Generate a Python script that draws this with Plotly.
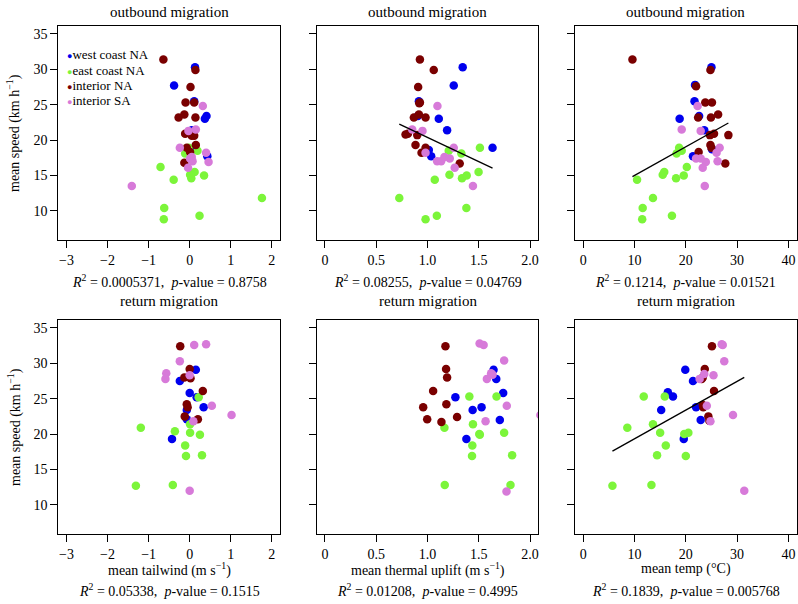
import numpy as np
import plotly.graph_objects as go

# ---------------- data ----------------
group_names = ["west coast NA", "east coast NA", "interior NA", "interior SA"]

# Panel 1: outbound, mean tailwind
p1_blue_x = [0.13, -0.38, 0.11, 0.41, 0.37, 0.05, 0.43, 0.05]
p1_blue_y = [30.3, 27.7, 25.5, 23.4, 23.0, 21.4, 17.7, 18.6]
p1_green_x = [-0.71, 0.19, -0.11, 0.12, 0.01, 0.04, 0.35, -0.39, -0.62, -0.63, 0.24, 1.76, -0.02]
p1_green_y = [16.2, 18.5, 18.1, 15.5, 15.1, 14.6, 15.0, 14.4, 10.4, 8.8, 9.3, 11.8, 18.9]
p1_red_x = [-0.64, 0.14, 0.02, -0.10, 0.11, -0.27, -0.13, 0.14, -0.11, 0.05, 0.11, -0.07, 0.15, 0.01, -0.13]
p1_red_y = [31.4, 29.9, 27.5, 25.3, 25.3, 23.2, 23.6, 23.2, 20.9, 20.6, 20.6, 18.9, 19.3, 18.3, 16.8]
p1_violet_x = [0.32, 0.15, -0.03, -0.24, 0.40, 0.46, 0.01, 0.05, -0.04, -1.41, 0.07]
p1_violet_y = [24.8, 21.5, 21.3, 18.9, 18.2, 16.9, 17.4, 17.6, 16.1, 13.5, 17.0]

# Panel 2: outbound, mean thermal uplift
p2_blue_x = [1.343, 1.256, 0.916, 1.110, 1.191, 1.013, 1.036, 1.634, 0.906]
p2_blue_y = [30.3, 27.7, 25.5, 23.0, 21.4, 18.6, 17.7, 18.9, 23.4]
p2_green_x = [0.725, 0.981, 1.091, 1.071, 1.214, 1.207, 1.330, 1.336, 1.382, 1.379, 1.498, 1.511]
p2_green_y = [11.8, 8.8, 9.3, 14.4, 15.1, 18.5, 18.1, 14.6, 15.0, 10.4, 15.5, 18.9]
p2_red_x = [0.926, 1.061, 0.909, 0.926, 0.920, 0.867, 0.916, 0.981, 0.786, 0.809, 0.900, 0.883, 0.981, 0.942, 1.314]
p2_red_y = [31.4, 29.9, 27.5, 25.3, 25.2, 23.2, 23.6, 23.2, 20.8, 20.9, 20.7, 19.3, 18.9, 18.2, 16.7]
p2_violet_x = [1.097, 0.851, 0.951, 1.256, 0.981, 1.094, 1.133, 1.165, 1.217, 1.265, 1.443]
p2_violet_y = [24.8, 21.5, 21.3, 18.9, 18.2, 17.0, 17.0, 17.6, 17.4, 16.1, 13.5]

# Panel 3: outbound, mean temp
p3_blue_x = [25.0, 21.8, 21.7, 22.6, 23.6, 18.8, 21.4, 25.1]
p3_blue_y = [30.3, 27.8, 25.5, 23.4, 21.4, 23.0, 17.7, 18.7]
p3_green_x = [10.5, 11.6, 11.5, 13.6, 15.5, 15.8, 17.3, 18.1, 18.2, 18.7, 19.2, 19.6, 20.2]
p3_green_y = [14.4, 10.4, 8.8, 11.8, 15.1, 15.5, 9.3, 14.6, 18.1, 18.9, 18.5, 15.0, 16.2]
p3_red_x = [9.6, 24.8, 22.0, 23.8, 25.1, 22.4, 24.9, 26.3, 24.7, 25.5, 28.3, 24.8, 25.0, 22.5, 27.7]
p3_red_y = [31.4, 29.9, 27.6, 25.3, 25.3, 23.2, 23.2, 23.6, 20.7, 20.9, 20.7, 19.3, 18.9, 18.3, 16.7]
p3_violet_x = [22.3, 19.2, 22.9, 26.6, 26.0, 22.0, 22.9, 23.9, 26.2, 23.3, 23.7]
p3_violet_y = [24.8, 21.5, 21.3, 18.9, 18.2, 17.4, 17.4, 16.9, 17.0, 16.1, 13.5]

# Panel 4: return, mean tailwind
p4_blue_x = [0.15, -0.24, 0.00, 0.34, -0.07, -0.07, -0.43, 0.17]
p4_blue_y = [29.1, 27.5, 25.8, 23.8, 23.4, 22.1, 19.3, 25.2]
p4_green_x = [-1.19, -0.36, 0.01, 0.25, -0.11, -0.09, 0.30, -1.31, -0.41, 0.22, 0.01]
p4_green_y = [20.9, 20.4, 20.2, 19.9, 18.4, 16.9, 17.0, 12.7, 12.8, 25.2, 21.4]
p4_red_x = [-0.23, 0.00, -0.13, 0.02, 0.32, -0.07, -0.05, -0.12, 0.20]
p4_red_y = [32.4, 29.2, 28.0, 27.9, 26.1, 24.2, 23.8, 22.5, 22.1]
p4_violet_x = [0.11, 0.40, -0.24, -0.57, -0.59, 0.00, 0.54, 1.02, 0.09, 0.00]
p4_violet_y = [32.6, 32.7, 30.3, 28.6, 27.8, 28.3, 24.0, 22.7, 21.8, 12.0]

# Panel 5: return, mean thermal uplift
p5_blue_x = [1.644, 1.670, 1.738, 1.272, 1.527, 1.440, 1.705, 1.379]
p5_blue_y = [29.1, 27.8, 25.8, 25.2, 23.8, 23.4, 22.0, 19.3]
p5_green_x = [1.165, 1.408, 1.673, 1.443, 1.505, 1.437, 1.434, 1.747, 1.825, 1.168, 1.809, 1.510]
p5_green_y = [20.9, 25.3, 25.3, 21.4, 20.0, 18.4, 16.9, 20.2, 17.0, 12.8, 12.8, 19.9]
p5_red_x = [1.175, 1.181, 1.191, 1.055, 0.958, 1.184, 0.997, 1.288, 1.136]
p5_red_y = [32.4, 29.2, 28.0, 26.1, 23.8, 24.2, 22.1, 22.4, 21.7]
p5_violet_x = [1.508, 1.547, 1.747, 1.634, 1.579, 1.773, 2.100, 1.566, 1.770, 1.620]
p5_violet_y = [32.8, 32.6, 30.4, 28.4, 27.8, 24.0, 22.7, 21.8, 11.9, 28.6]

# Panel 6: return, mean temp
p6_blue_x = [19.9, 21.4, 16.5, 17.5, 15.2, 22.0, 22.9, 19.6]
p6_blue_y = [29.1, 27.5, 25.9, 25.3, 23.4, 23.8, 22.0, 19.3]
p6_green_x = [8.6, 11.8, 15.9, 13.6, 15.0, 16.1, 14.4, 19.7, 20.5, 20.0, 5.7, 13.3]
p6_green_y = [20.9, 25.3, 25.3, 21.4, 20.2, 18.4, 17.0, 20.0, 20.2, 16.9, 12.7, 12.8]
p6_red_x = [25.1, 23.7, 23.3, 23.1, 25.5, 23.3, 23.4, 24.4, 24.6]
p6_red_y = [32.4, 29.2, 28.0, 27.8, 26.1, 24.1, 23.8, 22.5, 21.9]
p6_violet_x = [27.0, 27.2, 27.5, 25.4, 23.6, 22.7, 24.1, 29.2, 24.8, 31.4]
p6_violet_y = [32.7, 32.6, 30.3, 28.3, 28.5, 27.8, 24.0, 22.7, 21.8, 12.0]

panel_titles = ["outbound migration"] * 3 + ["return migration"] * 3
stats_text = [
    "<i>R</i><sup>2</sup> = 0.0005371,  <i>p</i>-value = 0.8758",
    "<i>R</i><sup>2</sup> = 0.08255,  <i>p</i>-value = 0.04769",
    "<i>R</i><sup>2</sup> = 0.1214,  <i>p</i>-value = 0.01521",
    "<i>R</i><sup>2</sup> = 0.05338,  <i>p</i>-value = 0.1515",
    "<i>R</i><sup>2</sup> = 0.01208,  <i>p</i>-value = 0.4995",
    "<i>R</i><sup>2</sup> = 0.1839,  <i>p</i>-value = 0.005768",
]
show_fit = [False, True, True, False, False, True]
x_titles = ["mean tailwind (m s<sup>\u22121</sup>)",
            "mean thermal uplift (m s<sup>\u22121</sup>)",
            "mean temp (\u00b0C)"]
x_tickvals = [[-3, -2, -1, 0, 1, 2], [0, 0.5, 1.0, 1.5, 2.0], [0, 10, 20, 30, 40]]
x_ticktext = [["\u22123", "\u22122", "\u22121", "0", "1", "2"],
              ["0", "0.5", "1.0", "1.5", "2.0"],
              ["0", "10", "20", "30", "40"]]
y_tickvals = [10, 15, 20, 25, 30, 35]

# ---------------- styling ----------------
FONT = "Liberation Serif, Times New Roman, serif"
colors = ["#0000EE", "#7CF53A", "#7A0000", "#D77AD9"]
W, H = 798, 604
x_dom_px = [(58.3, 280.0), (316.7, 538.3), (575.0, 796.6)]
y_dom_px = [(26.0, 240.0), (320.0, 534.0)]
x_ranges = [[-3.2, 2.2], [-0.08, 2.08], [-1.6, 41.6]]
y_range = [5.88, 36.12]

panel_data = [
    [(p1_blue_x, p1_blue_y), (p1_green_x, p1_green_y), (p1_red_x, p1_red_y), (p1_violet_x, p1_violet_y)],
    [(p2_blue_x, p2_blue_y), (p2_green_x, p2_green_y), (p2_red_x, p2_red_y), (p2_violet_x, p2_violet_y)],
    [(p3_blue_x, p3_blue_y), (p3_green_x, p3_green_y), (p3_red_x, p3_red_y), (p3_violet_x, p3_violet_y)],
    [(p4_blue_x, p4_blue_y), (p4_green_x, p4_green_y), (p4_red_x, p4_red_y), (p4_violet_x, p4_violet_y)],
    [(p5_blue_x, p5_blue_y), (p5_green_x, p5_green_y), (p5_red_x, p5_red_y), (p5_violet_x, p5_violet_y)],
    [(p6_blue_x, p6_blue_y), (p6_green_x, p6_green_y), (p6_red_x, p6_red_y), (p6_violet_x, p6_violet_y)],
]

fig = go.Figure()
layout = dict(
    width=W, height=H, margin=dict(l=0, r=0, t=0, b=0),
    paper_bgcolor="white", plot_bgcolor="white", showlegend=False,
    font=dict(family=FONT, size=14, color="black"),
)
annotations = []

for i in range(6):
    row, col = divmod(i, 3)
    sfx = "" if i == 0 else str(i + 1)
    xa, ya = "x" + sfx, "y" + sfx
    for g, (xs, ys) in enumerate(panel_data[i]):
        fig.add_trace(go.Scatter(
            x=xs, y=ys, mode="markers", xaxis=xa, yaxis=ya, name=group_names[g],
            marker=dict(color=colors[g], size=8.5, line=dict(width=0)),
        ))
    if show_fit[i]:
        allx = np.concatenate([np.asarray(p[0], float) for p in panel_data[i]])
        ally = np.concatenate([np.asarray(p[1], float) for p in panel_data[i]])
        slope, intercept = np.polyfit(allx, ally, 1)
        fx = np.array([allx.min(), allx.max()])
        fig.add_trace(go.Scatter(
            x=fx, y=intercept + slope * fx, mode="lines", xaxis=xa, yaxis=ya,
            line=dict(color="black", width=1.3),
        ))
    x0, x1 = x_dom_px[col]
    yt, yb = y_dom_px[row]
    layout["xaxis" + sfx] = dict(
        domain=[x0 / W, x1 / W], range=x_ranges[col], anchor=ya,
        showline=True, mirror=True, linecolor="black", linewidth=1,
        ticks="outside", ticklen=7, tickcolor="black", tickwidth=1,
        tickvals=x_tickvals[col], ticktext=x_ticktext[col],
        showticklabels=True, showgrid=False, zeroline=False,
        tickfont=dict(family=FONT, size=14, color="black"),
    )
    layout["yaxis" + sfx] = dict(
        domain=[(H - yb) / H, (H - yt) / H], range=y_range, anchor=xa,
        showline=True, mirror=True, linecolor="black", linewidth=1,
        ticks="outside", ticklen=7, tickcolor="black", tickwidth=1,
        tickvals=y_tickvals, showticklabels=(col == 0),
        showgrid=False, zeroline=False,
        tickfont=dict(family=FONT, size=14, color="black"),
    )
    xc = (x0 + x1) / 2 / W
    title_y = 12 if row == 0 else 301
    annotations.append(dict(text=panel_titles[i], x=xc, y=(H - title_y) / H,
                            xref="paper", yref="paper", showarrow=False,
                            xanchor="center", yanchor="middle",
                            font=dict(family=FONT, size=15, color="black")))
    stat_y = 281 if row == 0 else 590
    annotations.append(dict(text=stats_text[i], x=xc, y=(H - stat_y) / H,
                            xref="paper", yref="paper", showarrow=False,
                            xanchor="center", yanchor="middle",
                            font=dict(family=FONT, size=14, color="black")))
    if row == 1:
        annotations.append(dict(text=x_titles[col], x=xc, y=(H - 569) / H,
                                xref="paper", yref="paper", showarrow=False,
                                xanchor="center", yanchor="middle",
                                font=dict(family=FONT, size=14, color="black")))

for yc in (133, 427):
    annotations.append(dict(text="mean speed (km h<sup>\u22121</sup>)", x=14 / W, y=(H - yc) / H,
                            xref="paper", yref="paper", showarrow=False, textangle=-90,
                            xanchor="center", yanchor="middle",
                            font=dict(family=FONT, size=14, color="black")))

# legend (inside first panel)
legend_rows_px = [55, 70.2, 85.4, 100.6]
for g, name in enumerate(group_names):
    annotations.append(dict(
        text=f"<span style='color:{colors[g]};font-size:9px'>\u25cf</span>{name}",
        x=65 / W, y=(H - legend_rows_px[g]) / H, xref="paper", yref="paper",
        showarrow=False, xanchor="left", yanchor="middle",
        font=dict(family=FONT, size=13, color="black"),
    ))

layout["annotations"] = annotations
fig.update_layout(**layout)
fig.write_html(
    "out.html",
    config={"displayModeBar": False},
    post_script="document.body.style.margin='0';document.body.style.overflow='hidden';",
)
